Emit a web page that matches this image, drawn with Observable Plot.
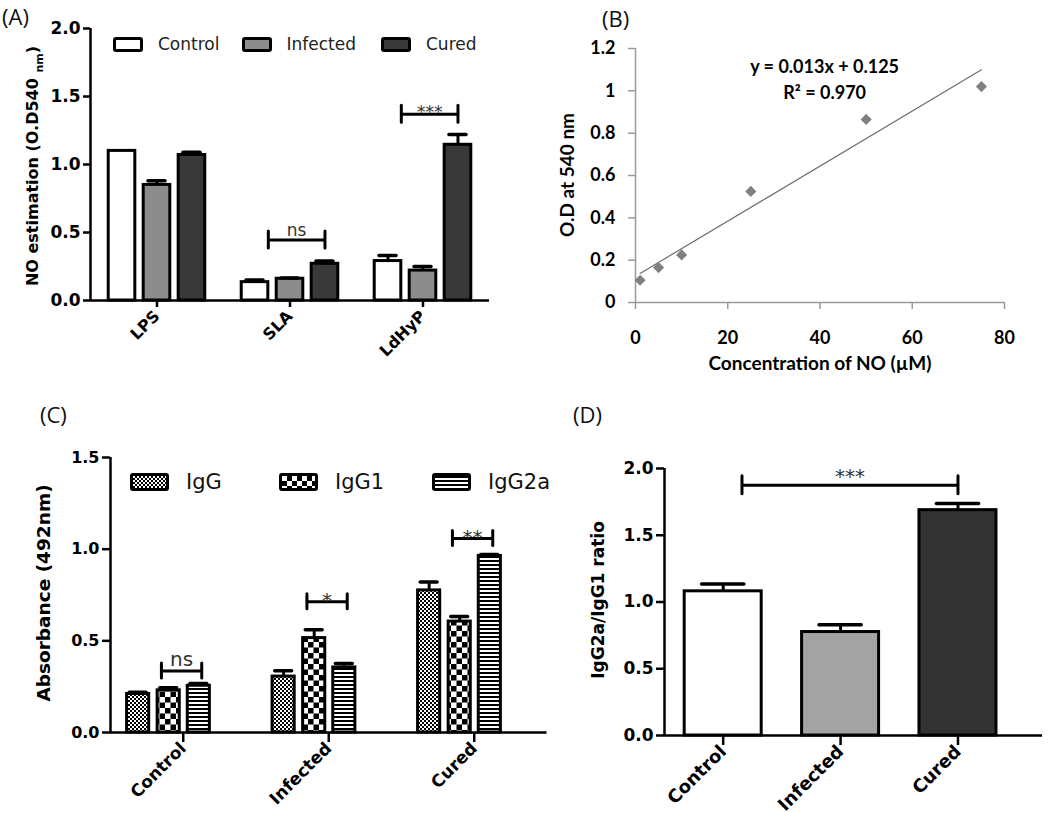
<!DOCTYPE html>
<html><head><meta charset="utf-8">
<script src="https://cdn.jsdelivr.net/npm/d3@7"></script>
<script src="https://cdn.jsdelivr.net/npm/@observablehq/plot@0.6"></script>
<style>
body{margin:0;background:#fff;}
#fig{position:relative;width:1050px;height:817px;overflow:hidden;background:#fff;font-family:"DejaVu Sans",sans-serif;color:#000;}
.panel{position:absolute;}
.panel svg{overflow:visible;}
.lab{position:absolute;white-space:nowrap;line-height:1;}
.rot{transform:translate(-50%,-50%) rotate(-90deg);}
.ctr{transform:translate(-50%,-50%);}
.item{position:absolute;display:flex;align-items:center;white-space:nowrap;line-height:1;}
.sw{box-sizing:border-box;border:3px solid #000;border-radius:3px;}
.plabel{position:absolute;font-family:"Open Sans",sans-serif;font-size:22px;line-height:1;color:#111;}
</style></head><body><div id="fig"></div>
<script>
// ---------------- DATA ----------------
// (A) NO estimation
const groupsA = ["LPS", "SLA", "LdHyP"];
const seriesA = ["Control", "Infected", "Cured"];
const meanA = [[1.10, 0.85, 1.07], [0.135, 0.16, 0.27], [0.29, 0.22, 1.145]];
const semA  = [[0.0, 0.03, 0.02], [0.015, 0.005, 0.02], [0.04, 0.03, 0.075]];
const sigA  = [
  {group: "SLA", from: "Control", to: "Cured", y: 0.445, label: "ns"},
  {group: "LdHyP", from: "Control", to: "Cured", y: 1.37, label: "***"}
];
const yTicksA = [0, 0.5, 1.0, 1.5, 2.0];

// (B) NO standard curve
const concB = [1, 5, 10, 25, 50, 75];
const odB   = [0.105, 0.165, 0.225, 0.525, 0.865, 1.02];
const eqB   = ["y = 0.013x + 0.125", "R\u00b2 = 0.970"];
const xTicksB = [0, 20, 40, 60, 80];
const yTicksB = [0, 0.2, 0.4, 0.6, 0.8, 1.0, 1.2];

// (C) Antibody isotypes
const groupsC = ["Control", "Infected", "Cured"];
const seriesC = ["IgG", "IgG1", "IgG2a"];
const meanC = [[0.21, 0.23, 0.255], [0.305, 0.515, 0.355], [0.775, 0.605, 0.963]];
const semC  = [[0.01, 0.014, 0.012], [0.032, 0.046, 0.022], [0.046, 0.028, 0.008]];
const sigC  = [
  {group: "Control", from: "IgG1", to: "IgG2a", y: 0.336, label: "ns"},
  {group: "Infected", from: "IgG1", to: "IgG2a", y: 0.713, label: "*"},
  {group: "Cured", from: "IgG1", to: "IgG2a", y: 1.058, label: "**"}
];
const yTicksC = [0, 0.5, 1.0, 1.5];

// (D) IgG2a/IgG1 ratio
const groupsD = ["Control", "Infected", "Cured"];
const ratioD = [1.08, 0.775, 1.688];
const semD   = [0.055, 0.055, 0.05];
const sigD   = [{fromGroup: "Control", toGroup: "Cured", y: 1.875, label: "***"}];
const yTicksD = [0, 0.5, 1.0, 1.5, 2.0];

// ---------------- LAYOUT / STYLE ----------------
const fig = document.getElementById("fig");
function addDiv(cls, html, css) {
  const d = document.createElement("div");
  d.className = cls; d.innerHTML = html;
  Object.assign(d.style, css);
  fig.appendChild(d); return d;
}
function addPanel(id, left, top, svg) {
  const d = document.createElement("div");
  d.className = "panel"; d.id = id;
  d.style.left = left + "px"; d.style.top = top + "px";
  d.style.width = svg.getAttribute("width") + "px";
  d.appendChild(svg); fig.appendChild(d);
}

function groupedBarMarks(cfg) {
  const rows = [];
  cfg.groups.forEach((g, gi) => cfg.series.forEach((s, si) => {
    rows.push({g, s, gi, si, xc: gi + cfg.offsets[si], v: cfg.mean[gi][si], e: cfg.sem[gi][si]});
  }));
  const errRows = rows.filter(d => d.e > 0);
  const pxPerUnit = (cfg.height - cfg.mt - cfg.mb) / cfg.ymax;
  const th = cfg.bracketTickPx / pxPerUnit;
  const sig = cfg.sig.map(b => {
    let x1, x2;
    if (b.fromGroup !== undefined) {
      x1 = cfg.groups.indexOf(b.fromGroup) + cfg.inset[0];
      x2 = cfg.groups.indexOf(b.toGroup) + cfg.inset[1];
    } else {
      const gi = cfg.groups.indexOf(b.group);
      x1 = gi + cfg.offsets[cfg.series.indexOf(b.from)] + cfg.inset[0];
      x2 = gi + cfg.offsets[cfg.series.indexOf(b.to)] + cfg.inset[1];
    }
    return {x1, x2, y: b.y, label: b.label};
  });
  const sigNs = sig.filter(d => d.label === "ns"), sigSt = sig.filter(d => d.label !== "ns");
  const txt = (data, dy) => Plot.text(data, {x: d => (d.x1 + d.x2) / 2, y: "y", text: "label", lineAnchor: "middle",
      dy, fontSize: cfg.sigFont, fontWeight: "normal", fill: "#333"});
  return [
    Plot.rectY(rows, {x1: d => d.xc - cfg.half, x2: d => d.xc + cfg.half, y1: 0, y2: "v",
      fill: cfg.fillOf, stroke: "black", strokeWidth: 3}),
    Plot.ruleX(errRows, {x: "xc", y1: "v", y2: d => d.v + d.e, stroke: "black", strokeWidth: 3}),
    Plot.ruleY(errRows, {y: d => d.v + d.e, x1: d => d.xc - cfg.cap, x2: d => d.xc + cfg.cap,
      stroke: "black", strokeWidth: 3.5, strokeLinecap: "round"}),
    Plot.ruleY(sig, {y: "y", x1: "x1", x2: "x2", stroke: "black", strokeWidth: 3}),
    Plot.ruleX(sig, {x: "x1", y1: d => d.y - th, y2: d => d.y + th, stroke: "black", strokeWidth: 3, strokeLinecap: "round"}),
    Plot.ruleX(sig, {x: "x2", y1: d => d.y - th, y2: d => d.y + th, stroke: "black", strokeWidth: 3, strokeLinecap: "round"}),
    txt(sigNs, cfg.dyNs),
    txt(sigSt, cfg.dyStar),
    Plot.ruleY([0], {stroke: "black", strokeWidth: 2.5}),
    Plot.ruleX([cfg.xdomain[0]], {stroke: "black", strokeWidth: 2.5})
  ];
}

function styleAxes(svg, xFont, yFont, tickW, tickColor) {
  const s = d3.select(svg);
  s.selectAll('g[aria-label^="x-axis"] text').style("font-size", xFont + "px");
  s.selectAll('g[aria-label^="y-axis"] text').style("font-size", yFont + "px");
  s.selectAll('g[aria-label^="x-axis"] path, g[aria-label^="y-axis"] path, g[aria-label^="x-axis"] line, g[aria-label^="y-axis"] line')
    .style("stroke-width", tickW + "px").style("stroke", tickColor);
}

function barPlot(cfg) {
  const svg = Plot.plot({
    width: cfg.width, height: cfg.height,
    marginLeft: cfg.ml, marginRight: cfg.mr, marginTop: cfg.mt, marginBottom: cfg.mb,
    style: {background: "none", fontFamily: "DejaVu Sans, sans-serif", fontWeight: "bold", color: "black", fontSize: "16px", overflow: "visible"},
    color: {type: "identity"},
    x: {domain: cfg.xdomain, ticks: [0, 1, 2], tickFormat: i => cfg.groups[i], tickRotate: -45,
        tickSize: cfg.xTickSize, tickPadding: cfg.xTickPad, label: null},
    y: {domain: [0, cfg.ymax], ticks: cfg.yticks, tickFormat: d3.format(".1f"),
        tickSize: cfg.yTickSize, tickPadding: cfg.yTickPad, label: null},
    marks: groupedBarMarks(cfg)
  });
  styleAxes(svg, cfg.xFont, cfg.yFont, 2.5, "black");
  return svg;
}

// ---------- Panel A ----------
const fillsA = ["#ffffff", "#8c8c8c", "#393939"];
const svgA = barPlot({
  width: 520, height: 400, ml: 90, mr: 31, mt: 28, mb: 100, xdomain: [-0.5, 2.5], ymax: 2, yticks: yTicksA,
  groups: groupsA, series: seriesA, mean: meanA, sem: semA, sig: sigA,
  offsets: [-0.263, 0.0, 0.263], half: 0.1, cap: 0.064, inset: [0.1, 0],
  fillOf: d => fillsA[d.si], bracketTickPx: 8.5, dyNs: -9, dyStar: -2, sigFont: 17,
  xTickSize: 7, xTickPad: 6, yTickSize: 7, yTickPad: 3, xFont: 16, yFont: 17
});
addPanel("pA", 0, 0, svgA);

// ---------- Panel B ----------
const ptsB = concB.map((c, i) => ({c, o: odB[i]}));
const svgB = Plot.plot({
  width: 530, height: 400, marginLeft: 115, marginRight: 46, marginTop: 48, marginBottom: 98,
  style: {background: "none", fontFamily: "Lato, sans-serif", fontWeight: "bold", color: "black", fontSize: "18px", overflow: "visible"},
  x: {domain: [0, 80], ticks: xTicksB, tickSize: 7, tickPadding: 22, label: null, tickFormat: d => String(d)},
  y: {domain: [0, 1.2], ticks: yTicksB, tickSize: 7, tickPadding: 13, label: null, tickFormat: d => String(+d.toFixed(1))},
  marks: [
    Plot.ruleY([0], {stroke: "#9a9a9a", strokeWidth: 1.5}),
    Plot.ruleX([0], {stroke: "#9a9a9a", strokeWidth: 1.5}),
    Plot.linearRegressionY(ptsB, {x: "c", y: "o", ci: 0, stroke: "#6e6e6e", strokeWidth: 1.2}),
    Plot.dot(ptsB, {x: "c", y: "o", symbol: "diamond2", r: 5, fill: "#808080", stroke: "none"}),
    Plot.text([eqB.join("\n")], {x: 41, y: 1.11, text: d => d, lineAnchor: "top", dy: -13, lineHeight: 1.45,
      fontSize: 18, fontWeight: "bold", fill: "black", fontFamily: "Lato, sans-serif"})
  ]
});
styleAxes(svgB, 18, 18, 1.5, "#9a9a9a");
d3.select(svgB).selectAll('g[aria-label^="x-axis"] text, g[aria-label^="y-axis"] text').style("fill", "black");
addPanel("pB", 520, 0, svgB);

// ---------- Panel C ----------
const fillsC = ["url(#patIgG)", "url(#patIgG1)", "url(#patIgG2a)"];
const svgC = barPlot({
  width: 560, height: 417, ml: 110, mr: 13.5, mt: 57, mb: 85, xdomain: [-0.5, 2.5], ymax: 1.5, yticks: yTicksC,
  groups: groupsC, series: seriesC, mean: meanC, sem: semC, sig: sigC,
  offsets: [-0.31, -0.10, 0.107], half: 0.076, cap: 0.058, inset: [-0.05, 0.02],
  fillOf: d => fillsC[d.si], bracketTickPx: 7.5, dyNs: -11, dyStar: -1, sigFont: 20,
  xTickSize: 10, xTickPad: 3, yTickSize: 8, yTickPad: 3, xFont: 17, yFont: 16
});
(function addPatterns(svg) {
  const defs = d3.select(svg).insert("defs", ":first-child");
  const p1 = defs.append("pattern").attr("id", "patIgG").attr("patternUnits", "userSpaceOnUse").attr("width", 4).attr("height", 4);
  p1.append("rect").attr("width", 4).attr("height", 4).attr("fill", "#fff");
  p1.append("rect").attr("width", 2).attr("height", 2).attr("fill", "#000");
  p1.append("rect").attr("x", 2).attr("y", 2).attr("width", 2).attr("height", 2).attr("fill", "#000");
  const p2 = defs.append("pattern").attr("id", "patIgG1").attr("patternUnits", "userSpaceOnUse").attr("width", 11).attr("height", 11);
  p2.append("rect").attr("width", 11).attr("height", 11).attr("fill", "#fff");
  p2.append("rect").attr("width", 5.5).attr("height", 5.5).attr("fill", "#000");
  p2.append("rect").attr("x", 5.5).attr("y", 5.5).attr("width", 5.5).attr("height", 5.5).attr("fill", "#000");
  const p3 = defs.append("pattern").attr("id", "patIgG2a").attr("patternUnits", "userSpaceOnUse").attr("width", 4).attr("height", 4);
  p3.append("rect").attr("width", 4).attr("height", 4).attr("fill", "#fff");
  p3.append("rect").attr("width", 4).attr("height", 2).attr("fill", "#000");
})(svgC);
addPanel("pC", 0, 400, svgC);

// ---------- Panel D ----------
const fillsD = ["#ffffff", "#a3a3a3", "#333333"];
const svgD = barPlot({
  width: 530, height: 417, ml: 144, mr: 8, mt: 68, mb: 82, xdomain: [-0.5, 2.72], ymax: 2, yticks: yTicksD,
  groups: groupsD, series: ["ratio"], mean: ratioD.map(v => [v]), sem: semD.map(v => [v]), sig: sigD,
  offsets: [0], half: 0.328, cap: 0.18, inset: [0.16, 0],
  fillOf: d => fillsD[d.gi], bracketTickPx: 9, dyNs: -11, dyStar: -9, sigFont: 20,
  xTickSize: 10, xTickPad: 3, yTickSize: 8, yTickPad: 3, xFont: 18, yFont: 17
});
addPanel("pD", 520, 400, svgD);

// ---------------- TEXT: panel labels, axis titles, legends ----------------
addDiv("plabel", "(A)", {left: "2px", top: "5px"});
addDiv("plabel", "(B)", {left: "602px", top: "7px"});
addDiv("plabel", "(C)", {left: "40px", top: "403px"});
addDiv("plabel", "(D)", {left: "573px", top: "403px"});

addDiv("lab rot", 'NO estimation (O.D540 <sub style="font-size:11px">nm</sub>)',
  {left: "35px", top: "166px", fontSize: "16px", fontWeight: "bold"});
addDiv("lab rot", "O.D at 540 nm", {left: "566px", top: "175px", fontSize: "19px", fontWeight: "bold", fontFamily: "Lato, sans-serif"});
addDiv("lab ctr", "Concentration of NO (\u00b5M)", {left: "820px", top: "362px", fontSize: "19px", fontWeight: "bold", fontFamily: "Lato, sans-serif"});
addDiv("lab rot", "Absorbance (492nm)", {left: "44px", top: "593px", fontSize: "18.5px", fontWeight: "bold"});
addDiv("lab rot", "IgG2a/IgG1 ratio", {left: "598px", top: "600px", fontSize: "17px", fontWeight: "bold"});

const legendAX = [113, 241.5, 381];
seriesA.forEach((s, i) => {
  addDiv("item", `<div class="sw" style="width:30px;height:15px;background:${fillsA[i]}"></div><span style="margin-left:15px">${s}</span>`,
    {left: legendAX[i] + "px", top: "37px", height: "15px", fontSize: "17px", color: "#222"});
});
const legendCBg = [
  "repeating-conic-gradient(#000 0 25%, #fff 0 50%) 0 0/4px 4px",
  "repeating-conic-gradient(#000 0 25%, #fff 0 50%) 0 0/10px 10px",
  "repeating-linear-gradient(#000 0 2px, #fff 2px 4px)"
];
const legendCX = [130, 279, 432];
seriesC.forEach((s, i) => {
  addDiv("item", `<div class="sw" style="width:39px;height:18px;background:${legendCBg[i]}"></div><span style="margin-left:17px">${s}</span>`,
    {left: legendCX[i] + "px", top: "473px", height: "18px", fontSize: "21px", color: "#111"});
});
</script></body></html>
